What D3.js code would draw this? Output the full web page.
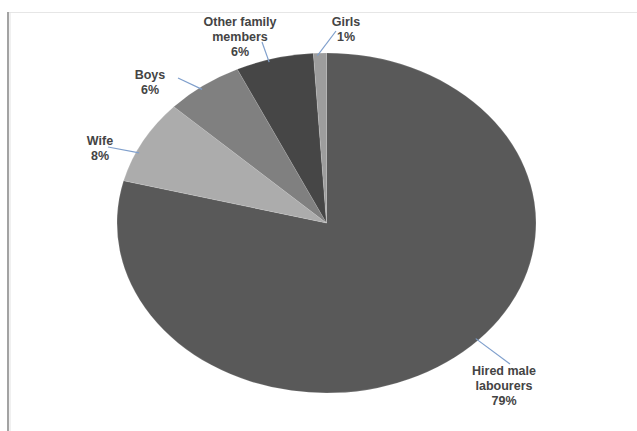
<!DOCTYPE html>
<html>
<head>
<meta charset="utf-8">
<script src="https://cdn.jsdelivr.net/npm/d3@7"></script>
<style>
  html, body { margin: 0; padding: 0; background: #fff; }
  svg { display: block; }
</style>
</head>
<body>
<svg id="chart" width="637" height="431"></svg>
<script>
// Share of labour by worker type (%)
const categories = ["Hired male labourers", "Wife", "Boys", "Other family members", "Girls"];
const shares = [79, 8, 6, 6, 1];
const labelLines = [["Hired male", "labourers"], ["Wife"], ["Boys"], ["Other family", "members"], ["Girls"]];
const sliceColors = ["#595959", "#acacac", "#808080", "#464646", "#9d9d9d"];

// Label placement: text centre x, first baseline y, leader end point,
// and where along the slice's arc the leader starts (0 = start, 1 = end)
const labelLayout = [
  { x: 504, y: 375, lx: 510, ly: 364, at: 0.47 },
  { x: 100, y: 145, lx: 108, ly: 147, at: 0.36 },
  { x: 150, y: 79,  lx: 178, ly: 78,  at: 0.45 },
  { x: 240, y: 26,  lx: 262, ly: 42,  at: 0.42 },
  { x: 346, y: 26,  lx: 336, ly: 31,  at: 0.3 }
];

const svg = d3.select("#chart");
const W = 637, H = 431;

// Chart area frame
svg.append("line").attr("x1", 8).attr("x2", W).attr("y1", 12.5).attr("y2", 12.5)
  .attr("stroke", "#e6e6e6").attr("stroke-width", 1);
svg.append("line").attr("x1", 8).attr("x2", 8).attr("y1", 12).attr("y2", H)
  .attr("stroke", "#a3a3a3").attr("stroke-width", 2);
svg.append("line").attr("x1", 10).attr("x2", 10).attr("y1", 12).attr("y2", H)
  .attr("stroke", "#e2e2e2").attr("stroke-width", 1);

// Flattened pie: a circle of radius rx squeezed vertically
const cx = 326.5, cy = 223, rx = 209.5, ry = 170;
const sy = ry / rx;

const pie = d3.pie().sort(null).value(d => d)
  .startAngle(0).endAngle(2 * Math.PI);
const arcs = pie(shares);
const arc = d3.arc().innerRadius(0).outerRadius(rx);

const g = svg.append("g").attr("transform", `translate(${cx},${cy}) scale(1,${sy})`);
g.selectAll("path.slice").data(arcs).join("path")
  .attr("class", "slice")
  .attr("d", arc)
  .attr("fill", (d, i) => sliceColors[i])
  .attr("stroke", "rgba(255,255,255,0.25)")
  .attr("stroke-width", 0.6);

// Point on the pie rim at a fraction along a slice
function rimPoint(d, f) {
  const a = d.startAngle + (d.endAngle - d.startAngle) * f;
  const r = rx * 0.985;
  return [cx + r * Math.sin(a), cy - r * Math.cos(a) * sy];
}

// Leader lines from slice edge to label
svg.selectAll("line.leader").data(arcs).join("line")
  .attr("class", "leader")
  .attr("x1", (d, i) => rimPoint(d, labelLayout[i].at)[0])
  .attr("y1", (d, i) => rimPoint(d, labelLayout[i].at)[1])
  .attr("x2", (d, i) => labelLayout[i].lx)
  .attr("y2", (d, i) => labelLayout[i].ly)
  .attr("stroke", "#7f9fcc")
  .attr("stroke-width", 1.2);

// Data labels: name lines followed by the percentage
const labels = svg.selectAll("text.lbl").data(arcs).join("text")
  .attr("class", "lbl")
  .attr("text-anchor", "middle")
  .attr("font-family", "'Liberation Sans', Arial, sans-serif")
  .attr("font-weight", "bold")
  .attr("font-size", 12.5)
  .attr("fill", "#444");
labels.each(function (d, i) {
  const t = d3.select(this);
  const lines = labelLines[i].concat([shares[i] + "%"]);
  lines.forEach((s, k) => {
    t.append("tspan").attr("x", labelLayout[i].x).attr("y", labelLayout[i].y + k * 15).text(s);
  });
});
</script>
</body>
</html>
